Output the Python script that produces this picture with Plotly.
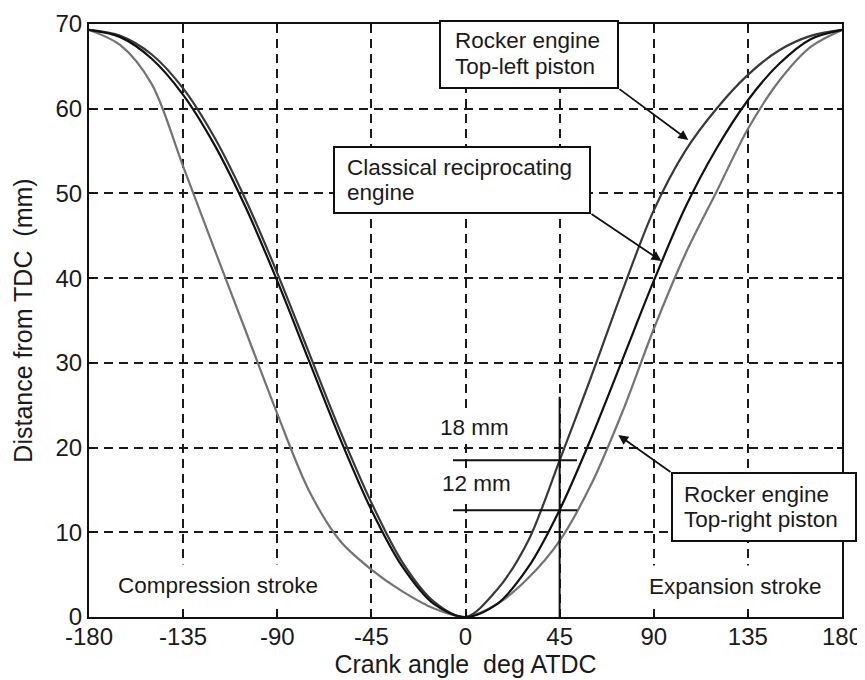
import plotly.graph_objects as go

# ---------------- data ----------------
angles = [-180, -165, -150, -135, -120, -105, -90, -75, -60, -45, -30, -15, 0,
          15, 30, 45, 60, 75, 90, 105, 120, 135, 150, 165, 180]

classical = [69.3, 68.45, 65.9, 61.64, 55.73, 48.3, 39.67, 30.36, 21.08, 12.64, 5.88, 1.51, 0.0,
             1.51, 5.88, 12.64, 21.08, 30.36, 39.67, 48.3, 55.3, 61.0, 65.3, 68.2, 69.3]

top_left = [69.3, 68.6, 66.4, 62.4, 56.6, 49.2, 40.6, 31.3, 22.0, 13.5, 6.4, 1.8, 0.0,
            3.2, 9.0, 18.5, 28.3, 38.5, 48.0, 55.0, 60.0, 64.0, 66.9, 68.6, 69.3]

top_right = [69.3, 67.5, 62.9, 53.2, 43.4, 33.7, 24.0, 15.0, 9.0, 5.6, 3.0, 1.0, 0.0,
             1.5, 4.6, 9.0, 15.6, 24.2, 34.0, 42.8, 50.2, 57.6, 63.3, 67.3, 69.3]

x_ticks = [-180, -135, -90, -45, 0, 45, 90, 135, 180]
y_ticks = [0, 10, 20, 30, 40, 50, 60, 70]

marked_angle = 45
marked_levels = [18.5, 12.6]
marked_labels = ["18 mm", "12 mm"]

# ---------------- layout geometry ----------------
# The page places the figure 8 px in from the top-left corner (default body margin),
# so the figure is made 8 px smaller and its margins shifted accordingly.
PAGE_OFF = 8
PAGE_W, PAGE_H = 865, 680
PLOT_X0, PLOT_X1, PLOT_Y0, PLOT_Y1 = 89, 842, 24, 617   # plot area in page pixels
W, H = PAGE_W - PAGE_OFF, PAGE_H - PAGE_OFF
L, T = PLOT_X0 - PAGE_OFF, PLOT_Y0 - PAGE_OFF
PW, PH = PLOT_X1 - PLOT_X0, PLOT_Y1 - PLOT_Y0
R, B = W - L - PW, H - T - PH
XR, YR = (-180, 180), (0, 70)
FONT = "Liberation Sans, Arial, sans-serif"
FS_TICK = 24
FS_TITLE = 25
FS_TEXT = 22.5
INK = "#1a1a1a"


def px(xp):   # page pixel x -> paper
    return (xp - PLOT_X0) / PW


def py(yp):   # page pixel y -> paper
    return (PLOT_Y1 - yp) / PH


def dx(xp):   # page pixel x -> data x
    return XR[0] + (xp - PLOT_X0) / PW * (XR[1] - XR[0])


def dy(yp):   # page pixel y -> data y
    return YR[0] + (PLOT_Y1 - yp) / PH * (YR[1] - YR[0])


fig = go.Figure()
fig.add_trace(go.Scatter(x=angles, y=top_right, mode="lines",
                         line=dict(color="#737373", width=2.2, shape="spline", smoothing=0.9),
                         name="Rocker engine top-right piston"))
fig.add_trace(go.Scatter(x=angles, y=top_left, mode="lines",
                         line=dict(color="#383838", width=2.2, shape="spline", smoothing=0.9),
                         name="Rocker engine top-left piston"))
fig.add_trace(go.Scatter(x=angles, y=classical, mode="lines",
                         line=dict(color="#111111", width=2.2, shape="spline", smoothing=0.9),
                         name="Classical reciprocating engine"))

shapes = []
# solid marker at 45 deg
shapes.append(dict(type="line", xref="x", yref="y", x0=marked_angle, x1=marked_angle,
                   y0=0, y1=26, line=dict(color="#111", width=2), layer="above"))
for lv in marked_levels:
    shapes.append(dict(type="line", xref="x", yref="y", x0=dx(453), x1=dx(577),
                       y0=lv, y1=lv, line=dict(color="#111", width=2), layer="above"))

# label boxes (page pixel extents)
boxes = [(440, 21, 618, 88), (334, 147, 590, 213), (672, 473, 856, 541)]
for (x0, y0, x1, y1) in boxes:
    shapes.append(dict(type="rect", xref="paper", yref="paper",
                       x0=px(x0), x1=px(x1), y0=py(y1), y1=py(y0),
                       line=dict(color="#111", width=2), fillcolor="white", layer="above"))

annotations = []
text_lines = [
    ("Rocker engine", 453, 40.6), ("Top-left piston", 453, 66.3),
    ("Classical reciprocating", 345, 167.3), ("engine", 345, 192.3),
    ("Rocker engine", 681.7, 494), ("Top-right piston", 681.7, 519),
]
for txt, xp, yp in text_lines:
    annotations.append(dict(text=txt, xref="paper", yref="paper", x=px(xp), y=py(yp),
                            xanchor="left", yanchor="middle", showarrow=False,
                            font=dict(family=FONT, size=FS_TEXT, color=INK)))
# stroke labels with white background hiding the grid
for txt, xp, yp in [("Compression stroke", 117, 585), ("Expansion stroke", 648, 586.5)]:
    annotations.append(dict(text=txt, xref="paper", yref="paper", x=px(xp - 8), y=py(yp),
                            xanchor="left", yanchor="middle", showarrow=False,
                            bgcolor="white", borderpad=8,
                            font=dict(family=FONT, size=FS_TEXT, color=INK)))
for txt, xp, yp in [(marked_labels[0], 474, 427), (marked_labels[1], 476, 484)]:
    annotations.append(dict(text=txt, xref="paper", yref="paper", x=px(xp), y=py(yp),
                            xanchor="center", yanchor="middle", showarrow=False,
                            bgcolor="white", borderpad=2,
                            font=dict(family=FONT, size=FS_TEXT, color=INK)))

# arrows: (tip page pixel, tail page pixel)
arrows = [((688.3, 140), (618, 88)), ((661.4, 261), (590, 213)), ((618.3, 435), (672, 473))]
for (tx, ty), (sx, sy) in arrows:
    annotations.append(dict(text="", x=dx(tx), y=dy(ty), xref="x", yref="y",
                            ax=sx - tx, ay=sy - ty, showarrow=True,
                            arrowhead=2, arrowsize=1.1, arrowwidth=1.8, arrowcolor="#111",
                            standoff=0))

axis_common = dict(showgrid=True, gridcolor=INK, gridwidth=1.7, griddash="9px,6px",
                   zeroline=False, showline=True, linecolor="#111", linewidth=2,
                   mirror="ticks", ticks="inside", ticklen=5, tickcolor="#111", tickwidth=1.5,
                   automargin=False,
                   tickfont=dict(family=FONT, size=FS_TICK, color=INK))

fig.update_layout(
    width=W, height=H, autosize=False,
    margin=dict(l=L, r=R, t=T, b=B, pad=0, autoexpand=False),
    paper_bgcolor="white", plot_bgcolor="white",
    showlegend=False,
    font=dict(family=FONT, size=FS_TEXT, color=INK),
    xaxis=dict(range=list(XR), tickvals=x_ticks, ticktext=[str(v) for v in x_ticks],
               ticklabelstandoff=-3,
               title=dict(text="Crank angle\u00a0 deg ATDC", standoff=1,
                          font=dict(family=FONT, size=FS_TITLE, color=INK)),
               **axis_common),
    yaxis=dict(range=list(YR), tickvals=y_ticks, ticktext=[str(v) for v in y_ticks],
               title=dict(text="Distance from TDC\u00a0 (mm)", standoff=16,
                          font=dict(family=FONT, size=FS_TITLE, color=INK)),
               **axis_common),
    shapes=shapes,
    annotations=annotations,
)

fig.write_html("out.html")
